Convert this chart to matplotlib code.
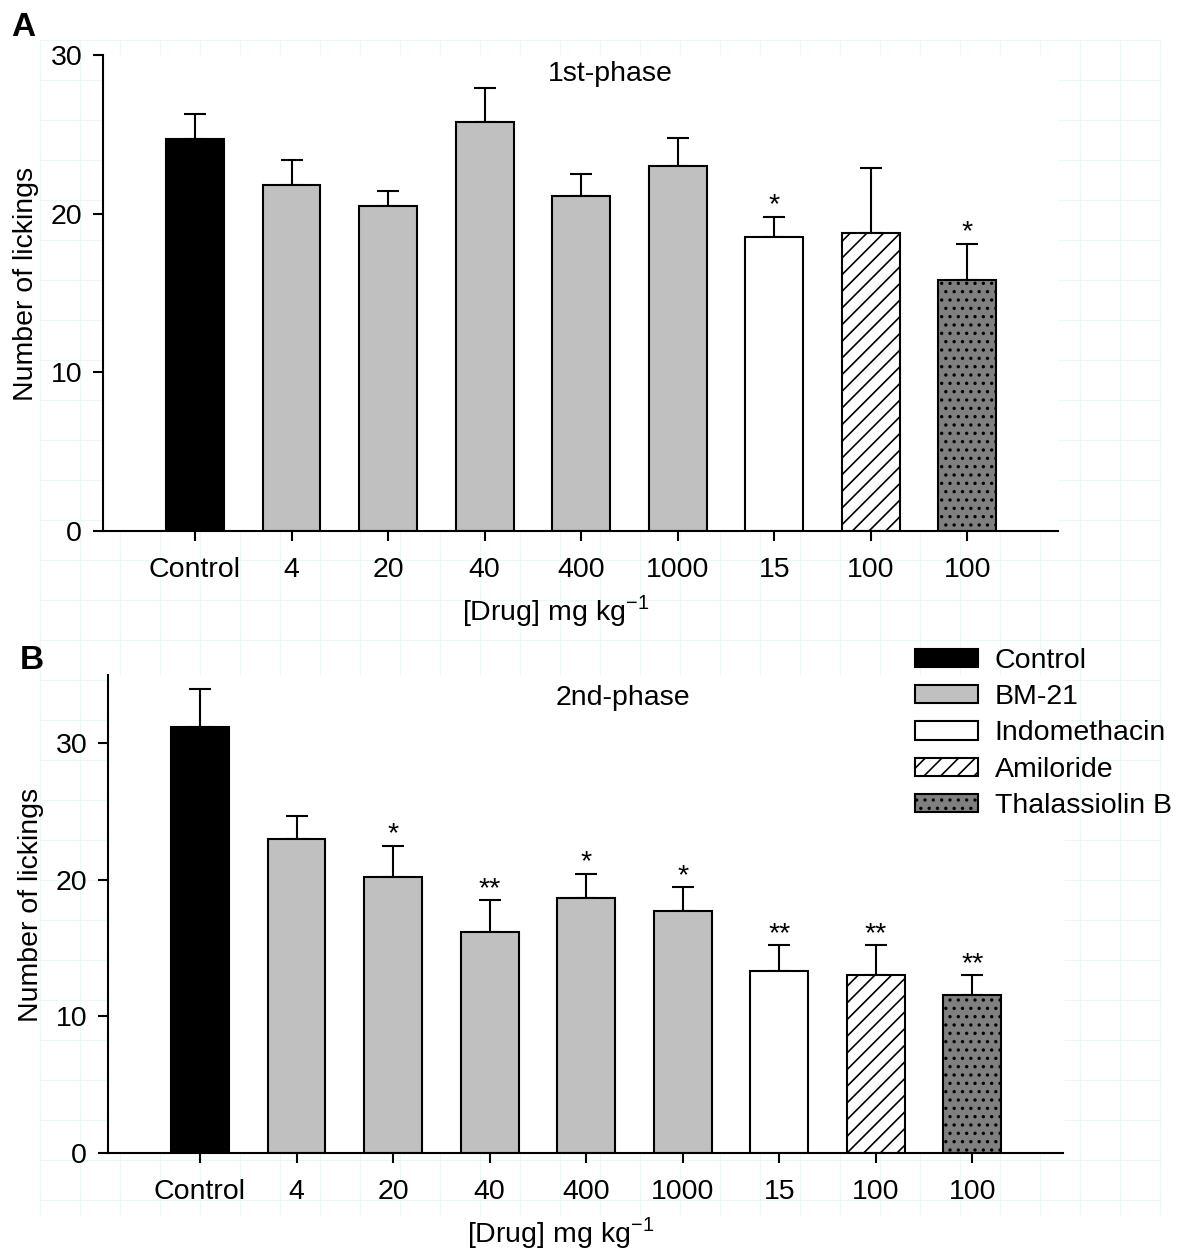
import numpy as np
import matplotlib
matplotlib.use('Agg')
import matplotlib.pyplot as plt
from matplotlib.patches import Patch

plt.rcParams['font.family'] = ['Liberation Sans', 'DejaVu Sans']
plt.rcParams['hatch.linewidth'] = 1.2

# ---------------------------------------------------------------
# data
# ---------------------------------------------------------------
doses = ['Control', '4', '20', '40', '400', '1000', '15', '100', '100']
groups = ['Control', 'BM-21', 'BM-21', 'BM-21', 'BM-21', 'BM-21',
          'Indomethacin', 'Amiloride', 'Thalassiolin B']

phase1_mean = [24.7, 21.8, 20.5, 25.8, 21.1, 23.0, 18.5, 18.8, 15.8]
phase1_sem = [1.6, 1.6, 0.9, 2.1, 1.4, 1.8, 1.3, 4.1, 2.3]
phase1_sig = ['', '', '', '', '', '', '*', '', '*']

phase2_mean = [31.2, 23.0, 20.2, 16.2, 18.7, 17.7, 13.3, 13.0, 11.6]
phase2_sem = [2.8, 1.7, 2.3, 2.3, 1.75, 1.75, 1.9, 2.2, 1.4]
phase2_sig = ['', '', '*', '**', '*', '*', '**', '**', '**']

legend_names = ['Control', 'BM-21', 'Indomethacin', 'Amiloride', 'Thalassiolin B']

# fill / hatch for each group
STYLE = {
    'Control': dict(facecolor='black', hatch=None),
    'BM-21': dict(facecolor='#c0c0c0', hatch=None),
    'Indomethacin': dict(facecolor='white', hatch=None),
    'Amiloride': dict(facecolor='white', hatch='//'),
    'Thalassiolin B': dict(facecolor='#808080', hatch='..'),
}

FS = 20.5
W, H = 1200, 1256


def draw_panel(ax, means, sems, sigs, ymax, yticks, title, title_xy):
    x = np.arange(len(doses))
    for i, g in enumerate(groups):
        st = STYLE[g]
        ax.bar(x[i], means[i], width=0.6, facecolor=st['facecolor'],
               hatch=st['hatch'], edgecolor='black', linewidth=1.5, zorder=2)
    ax.errorbar(x, means, yerr=[np.zeros(len(sems)), sems], fmt='none',
                ecolor='black', elinewidth=1.5, capsize=8, capthick=1.5, zorder=1)
    for i, s in enumerate(sigs):
        if s:
            ax.annotate(s, (x[i], means[i] + sems[i]), xytext=(0, -1),
                        textcoords='offset points', ha='center', va='bottom',
                        fontsize=FS)

    ax.set_xlim(-0.953, 8.94)
    ax.set_ylim(0, ymax)
    ax.set_yticks(yticks)
    ax.set_xticks(x)
    ax.set_xticklabels(doses)
    for sp in ['top', 'right']:
        ax.spines[sp].set_visible(False)
    for sp in ['left', 'bottom']:
        ax.spines[sp].set_linewidth(1.5)
    ax.tick_params(axis='both', direction='out', length=7, width=1.5, labelsize=FS)
    ax.tick_params(axis='x', pad=12)
    ax.tick_params(axis='y', pad=8)
    ax.set_ylabel('Number of lickings', fontsize=FS)
    ax.yaxis.set_label_coords(-0.067, 0.52)
    ax.set_xlabel('[Drug] mg kg$^{\\mathregular{-1}}$', fontsize=FS)
    ax.xaxis.set_label_coords(0.474, -0.13)
    ax.text(title_xy[0], title_xy[1], title, ha='center', va='center', fontsize=FS)


fig = plt.figure(figsize=(W / 100, H / 100), dpi=100)

# faint paper grid behind everything
bg = fig.add_axes([0, 0, 1, 1], zorder=-10)
bg.set_xlim(0, W)
bg.set_ylim(H, 0)
bg.axis('off')
for gx in range(40, 1161, 40):
    bg.plot([gx, gx], [40, 1215], color='#ecf8f8', lw=0.8)
for gy in range(40, 1216, 40):
    bg.plot([40, 1160], [gy, gy], color='#ecf8f8', lw=0.8)

axA = fig.add_axes([103 / W, 1 - 531 / H, 955 / W, 476 / H])
axB = fig.add_axes([108 / W, 1 - 1153 / H, 955 / W, 478 / H])

draw_panel(axA, phase1_mean, phase1_sem, phase1_sig, 30, [0, 10, 20, 30],
           '1st-phase', (4.3, 28.8))
draw_panel(axB, phase2_mean, phase2_sem, phase2_sig, 35, [0, 10, 20, 30],
           '2nd-phase', (4.38, 33.3))

fig.text(11 / W, 1 - 36 / H, 'A', fontsize=24, fontweight='bold', va='baseline')
fig.text(20 / W, 1 - 669 / H, 'B', fontsize=24, fontweight='bold', va='baseline')

handles = [Patch(facecolor=STYLE[n]['facecolor'], hatch=STYLE[n]['hatch'],
                 edgecolor='black', linewidth=1.5) for n in legend_names]
fig.legend(handles, legend_names, loc='upper left',
           bbox_to_anchor=(915 / W, 1 - 648 / H), frameon=False, fontsize=FS,
           borderpad=0, borderaxespad=0, handlelength=2.2, handleheight=0.6,
           handletextpad=0.6, labelspacing=0.36)

fig.savefig('out.png', dpi=100, facecolor='white')
